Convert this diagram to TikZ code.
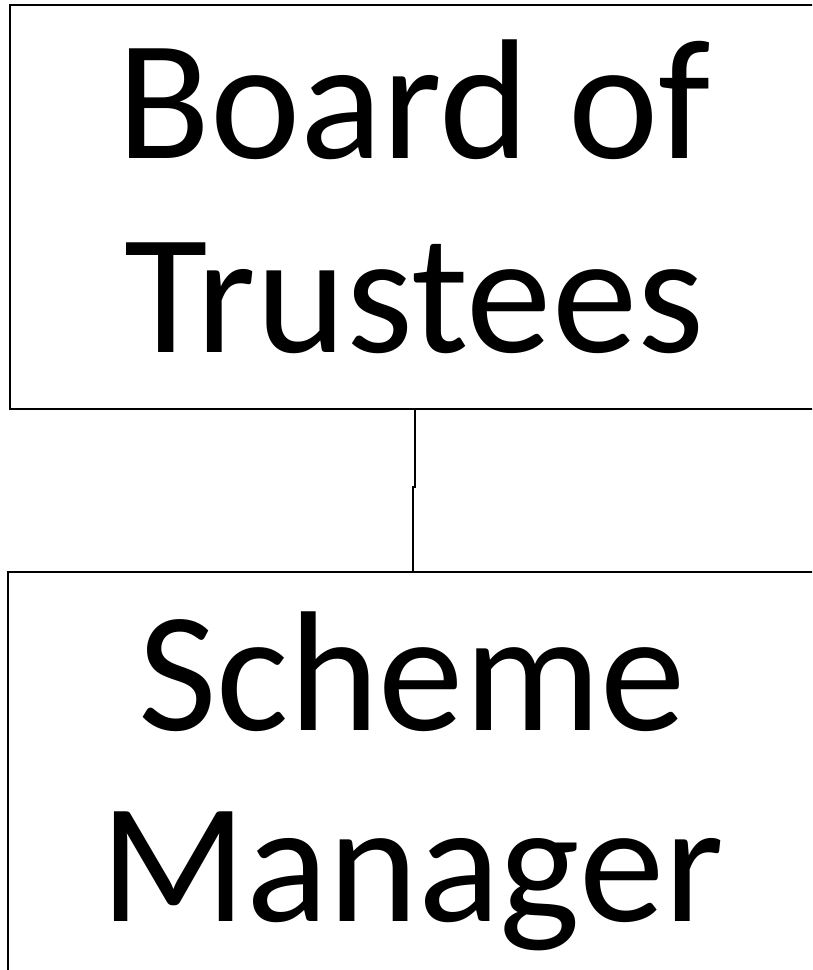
\documentclass[tikz,border=0pt]{standalone}
\usepackage{fontspec}
\setmainfont{Carlito}
\begin{document}
\begin{tikzpicture}[x=1pt,y=-1pt,
  orgbox/.style={draw=black, line width=2pt, rectangle, minimum width=860pt, inner sep=0pt},
  orgtext/.style={align=center, inner sep=0pt, font=\fontsize{171}{194}\selectfont},
  link/.style={draw=black, line width=2pt}]
\useasboundingbox (0,0) rectangle (812,970);
\begin{scope}
\clip (0,0) rectangle (812,970);
\node[orgbox, minimum height=404pt] (board) at (440,207) {};
\node[orgbox, minimum height=404pt] (mgr) at (438,774) {};
\node[orgtext] (boardtext) at (414,197) {Board of\\Trustees};
\node[orgtext, font=\fontsize{171}{191}\selectfont] (mgrtext) at (412,781) {Scheme\\Manager};
\coordinate (upx) at (415,0);
\coordinate (lowx) at (413,0);
\draw[link] (upx |- board.south) -- ++(0,77) coordinate (jog) -- (jog -| lowx) -- (lowx |- mgr.north);
\end{scope}
\end{tikzpicture}
\end{document}
